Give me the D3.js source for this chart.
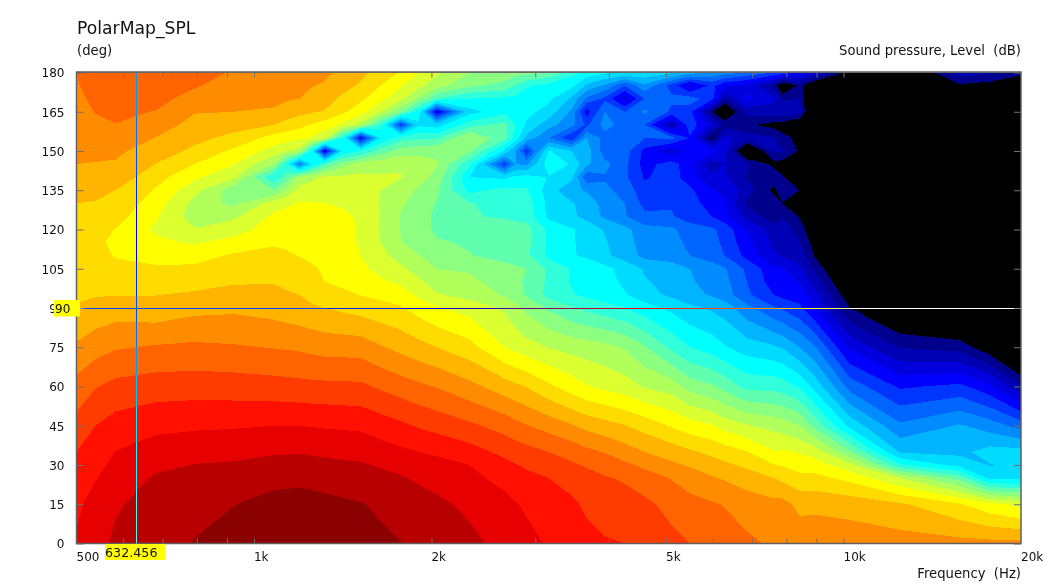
<!DOCTYPE html>
<html><head><meta charset="utf-8">
<script src="https://cdn.jsdelivr.net/npm/d3@7"></script>
<style>
html,body{margin:0;padding:0;background:#fff}
svg{display:block}
text{font-family:"DejaVu Sans",Verdana,sans-serif;font-size:13.2px;fill:#111}
.tick text{font-size:12px}
</style></head><body><div id="chart"></div>
<script>
const frequencies=[500,539,582,681,793,924,1080,1135,1195,1253,1318,1414,1517,1640,1774,1903,2041,2322,2662,2780,2901,3163,3459,3668,3935,4254,4600,5112,5487,5981,6288,6857,7617,7889,8431,8941,10250,12465,15755,17713,20000];
const angles=[180,175,170,165,160,155,150,145,140,135,130,125,120,115,110,105,100,95,90,75,60,45,35,30,25,15,0];
const bandColors=["#00008c","#0000b4","#0000dc","#0000ff","#0034ff","#0064ff","#008cff","#00b4ff","#00dcff","#00ffff","#30ffdc","#60ffb0","#8cff80","#b0ff5a","#dcff30","#ffff00","#ffdc00","#ffb400","#ff8c00","#ff6400","#ff3c00","#ff1000","#e60000","#b80000","#8b0000"];
const xMinorTicks=[600,700,800,900,1000,2000,3000,4000,5000,6000,7000,8000,9000,10000];
const xLabels=[[500,"500"],[1000,"1k"],[2000,"2k"],[5000,"5k"],[10000,"10k"],[20000,"20k"]];
const yTicks=[0,15,30,45,60,75,90,105,120,135,150,165,180];
const cursorFrequency=632.456, cursorAngle=90;
// band level per frequency column, rows follow `angles`
const levels=[
[19.0,18.95,18.85,18.75,18.6,18.45,18.25,18.0,17.65,17.3,17.0,16.85,16.7,16.65,16.65,16.7,16.8,16.9,17.05,18.16,19.35,20.36,21.0,21.2,21.4,21.8,22.1],
[19.35,19.25,19.15,19.03,18.85,18.6,18.25,17.95,17.6,17.2,16.95,16.6,16.3,16.2,16.3,16.45,16.65,16.95,17.3,18.6,19.95,21.0,21.5,21.7,21.95,22.4,22.7],
[19.6,19.45,19.3,19.15,18.98,18.7,18.2,17.9,17.6,17.0,16.7,16.4,15.97,15.8,15.95,16.2,16.5,16.95,17.5,18.9,20.3,21.4,22.02,22.25,22.47,22.9,23.15],
[19.9,19.6,19.3,18.97,18.45,17.98,17.5,16.98,16.4,15.9,15.5,15.15,14.85,15.2,15.65,16.15,16.5,16.98,17.35,19.1,20.5,21.75,22.45,22.8,23.1,23.35,23.6],
[19.4,19.1,18.65,18.05,17.7,17.25,16.8,16.0,15.2,14.35,13.7,13.5,14.05,14.9,15.6,16.2,16.65,17.15,17.7,19.2,20.55,21.85,22.65,23.03,23.25,23.7,24.05],
[18.9,18.55,18.25,18.0,17.35,16.75,15.8,15.05,14.2,12.4,12.7,13.8,14.55,15.35,16.15,16.5,16.9,17.35,17.8,19.1,20.5,21.9,22.75,23.1,23.4,23.97,24.45],
[18.6,18.4,18.2,17.9,17.0,15.6,14.6,13,10,12,14.5,15.2,15.5,15.9,16.25,16.55,16.95,17.25,17.6,18.95,20.4,22.0,22.9,23.3,23.7,24.35,24.6],
[18.5,18.3,18.1,17.6,16.65,15.4,14.1,10,11.5,13.2,14.8,15.3,15.55,15.88,16.1,16.42,16.8,17.12,17.45,18.9,20.35,22,22.92,23.32,23.72,24.4,24.62],
[18.4,18.2,18.0,17.3,16.3,15.2,13.6,6,13.3,14.4,15.1,15.4,15.6,15.85,15.97,16.3,16.65,17,17.3,18.85,20.3,22,22.95,23.35,23.75,24.45,24.65],
[18.3,18.05,17.7,17.1,15.9,14.9,9.5,9,13.75,14.5,15.05,15.4,15.6,15.78,15.86,16.1,16.33,16.7,17.15,18.72,20.27,21.95,22.9,23.27,23.7,24.35,24.62],
[18.2,17.9,17.4,16.95,15.5,14.3,2.8,11,14.2,14.6,15,15.4,15.6,15.7,15.75,15.9,16,16.4,17.0,18.6,20.25,21.9,22.85,23.2,23.65,24.25,24.6],
[17.75,17.35,16.8,16.2,14.8,10,9.2,12.5,14.2,14.55,14.9,15.15,15.3,15.3,15.4,15.55,15.8,16.2,16.8,18.58,20.22,21.85,22.77,23.15,23.55,24.15,24.5],
[17.3,16.85,16.2,15.4,13.6,3.2,10,13.5,14.2,14.5,14.75,14.9,14.9,14.9,15,15.2,15.6,15.97,16.6,18.55,20.2,21.8,22.7,23.1,23.45,24.05,24.4],
[16.6,16,15.3,14.1,10.5,9,11.5,13.7,14.1,14,13.95,13.95,13.9,14,14.3,14.7,15.2,15.75,16.35,18.1,19.85,21.5,22.45,22.9,23.3,23.85,24.2],
[15.9,15.1,14.3,12.2,4.5,10.5,12.5,13.9,14.05,13.5,13.15,12.95,12.95,13.05,13.6,14.2,14.8,15.5,16.1,17.7,19.5,21.2,22.2,22.65,23.1,23.65,24.02],
[15,14.3,12.8,9.5,8.8,10.8,12.7,13.5,13.4,12.85,12.55,12.4,12.4,12.6,13.05,13.6,14.2,14.8,15.6,17.35,19.2,20.9,22,22.45,22.85,23.45,23.85],
[14.2,13.4,11,3,8.5,10.8,12.9,13.05,12.7,12.2,11.95,11.8,11.85,12.1,12.5,13,13.55,14.1,15.1,17,18.95,20.65,21.85,22.3,22.6,23.25,23.7],
[13.0,12.2,10,8.6,10.6,13.1,12.2,10.3,9.0,9.7,11.05,11.1,11.8,11.9,12.05,12.9,13.2,13.65,14.6,16.35,18.3,20.2,21.4,22,22.25,22.75,23.3],
[12.6,11.7,9.8,9.7,11.3,11.3,8.8,4.5,8.8,10.3,10.7,10.85,11.7,11.6,11.6,12.4,12.6,12.9,13.85,15.0,17.5,19.6,20.75,21.25,21.7,22.3,22.6],
[12.5,10.9,9.7,9.5,10,9.5,7,7,9.2,10.2,10.6,10.7,11.55,11.45,11.4,12.2,12.2,12.4,13.3,14.7,17.2,19.3,20.55,21.05,21.5,22.05,22.45],
[12.4,10.1,9.6,9.3,8.8,7.7,4.2,6.8,9.4,10.15,10.5,10.6,11.4,11.3,11.2,12,11.85,11.9,12.75,14.4,16.95,19.05,20.35,20.85,21.25,21.85,22.3],
[12,9.6,9.2,8.6,7.4,6.0,9.1,9.6,8.95,8.5,8.7,8.75,9.75,9.8,9.75,10.8,10.8,10.65,11.85,13.97,16.2,18.6,20.0,20.45,21,21.4,21.9],
[10.3,9.3,7.8,6.8,6.3,4.2,8,8.9,8.3,7.2,8.1,8.2,9.1,9.1,9.1,9.9,9.9,10.1,11.1,13.65,15.5,18.1,19.6,20.15,20.6,21.2,21.55],
[9.6,7.8,5.8,3.5,4.8,7,7.5,7.2,5.2,6.9,7.5,7.7,8.6,8.7,8.8,9.8,9.7,9.8,10.75,13.5,15.07,17.7,19.25,19.9,20.35,20.8,21.35],
[9.2,6.8,4.8,6,6.4,5.6,5.5,6.3,5.9,6.2,6.7,6.8,7.9,8.1,8.2,9.3,9.4,9.5,10.4,13.3,14.75,17.4,18.95,19.55,20.1,20.55,21.1],
[9,5.0,2.5,5.0,5.6,5.5,5.5,5.3,5.2,5.7,6,6.1,7.3,7.4,7.6,8.6,8.8,9.1,10.05,12.9,14.45,17.05,18.45,19.2,19.85,20.55,21.0],
[8.8,6.8,5,6.2,5,5,3.7,3.6,3.9,4.3,4.7,5.2,6.4,6.6,6.7,7.9,8.1,8.4,9.45,12.1,13.9,16.6,18,18.8,19.4,20.25,20.7],
[8.2,4.6,5.2,4.8,1.2,5.3,2.2,4.5,4.4,4.3,4.9,5.1,6.2,6.3,6.5,7.5,7.6,7.8,8.75,10.75,13.5,15.9,17.55,18.2,18.95,19.65,20.3],
[7.5,2.6,5.5,4.4,4.7,3.9,3.4,3.3,3.5,4.2,4.4,4.5,5.5,5.8,6,7,7.1,7.3,8.25,10,12.6,15.45,17.15,17.9,18.5,19.35,20],
[6.8,4.3,4.4,0.1,2.5,-0.3,3.5,1.4,2.2,3.1,3.6,4,5.2,5.3,5.5,6.5,6.7,6.9,7.85,9.55,12.1,15.1,16.75,17.45,18.1,19.1,19.6],
[6.5,3.2,1,-1.5,0.7,2.3,2.4,2,2.2,2.7,3.2,3.4,4.6,4.8,5,6.1,6.3,6.5,7.55,9.1,11.65,14.6,16.5,17.2,17.9,18.95,19.45],
[5.8,2.7,3.2,1.4,0.2,1.5,-2,1.2,0.9,1.6,0.8,1.7,3,3.3,3.7,4.8,5,5.2,6.35,8.5,10.7,14.1,16.05,16.8,17.5,18.55,19.2],
[5,0.6,2.2,1.6,-0.4,1.1,1.2,-0.3,0.6,-0.3,0.8,0.4,1.5,1.8,2.2,3.3,3.5,4,5.15,8.15,10.65,13.7,15.05,16.05,17,18.3,18.85],
[4.7,-1.5,0.8,1.9,-0.6,0.3,1.1,-0.5,0.1,0.9,-0.05,0.9,1.5,1.6,1.9,3.1,3.4,3.7,4.85,7.9,10.5,13.5,15.15,15.9,16.75,18.35,18.8],
[3.5,0.4,1,1.6,-1.5,-0.3,-0.2,-2,-1,-0.05,-1.5,-0.1,0.6,1.1,1.6,2.2,2.9,3.6,4.2,7,9.85,13,14.9,15.6,16.3,17.7,18.7],
[2.5,-1.5,-3,-3,-3,-3,-3,-3,-3,-2.5,-3,-2,-1.2,-0.6,-0.1,0.8,1.6,2.4,3,6.1,8.65,11.7,14.6,15.5,16.3,17.75,18.7],
[-0.5,-4,-4,-4,-4,-4,-4,-4,-4,-4,-4,-4,-4,-3.5,-3,-2.4,-1.6,-0.8,0,2.8,5.6,8.7,12.15,14.3,15.7,17.6,18.6],
[-2,-4,-4,-4,-4,-4,-4,-4,-4,-4,-4,-4,-4,-4,-4,-4,-3.5,-2.7,-1.8,0.95,3.85,6.2,7.9,10.2,14,17.15,18.45],
[1.5,-0.2,-4,-4,-4,-4,-4,-4,-4,-4,-4,-4,-4,-4,-4,-4,-4,-3.5,-2.7,0.6,4.25,7.1,7.75,8.6,11.6,16.1,18.35],
[1.2,-0.5,-4,-4,-4,-4,-4,-4,-4,-4,-4,-4,-4,-4,-4,-4,-4,-3.8,-3.4,-0.8,3.3,6.5,8.4,7.95,8.7,15.3,18.3],
[0.6,-2,-4,-4,-4,-4,-4,-4,-4,-4,-4,-4,-4,-4,-4,-4,-4,-4,-4,-3,1.15,5.6,8.4,8.2,8.7,14.7,18.3]
];

const W=1056,H=587,L=76.5,R=1021,T=72.5,B=543.5;
const x=d3.scaleLog().domain([500,20000]).range([L,R]);
const y=d3.scaleLinear().domain([0,180]).range([B,T]);
const svg=d3.select("#chart").append("svg").attr("width",W).attr("height",H);

svg.append("rect").attr("x",L).attr("y",T).attr("width",R-L).attr("height",B-T).attr("fill","#000");

const nx=frequencies.length, ny=angles.length;
const grid=new Float64Array(nx*ny);
for(let j=0;j<ny;j++)for(let i=0;i<nx;i++)grid[i+j*nx]=levels[i][j];
const uToX=d3.scaleLinear().domain(d3.range(nx)).range(frequencies.map(x)).clamp(true);
const vToY=d3.scaleLinear().domain(d3.range(ny)).range(angles.map(y)).clamp(true);
const path=d3.geoPath().projection(d3.geoTransform({point(u,v){this.stream.point(uToX(u-.5),vToY(v-.5));}}));
const contours=d3.contours().size([nx,ny]).thresholds(d3.range(bandColors.length))(grid);
svg.append("g").attr("shape-rendering","crispEdges").selectAll("path").data(contours).join("path")
  .attr("d",path).attr("fill",(d,i)=>bandColors[i]).attr("fill-rule","evenodd");

const tickStroke="#707070";
function style(g){g.select(".domain").remove();g.selectAll("line").attr("stroke",tickStroke);}
svg.append("g").attr("transform",`translate(0,${B})`).call(d3.axisBottom(x).tickValues(xMinorTicks).tickSize(-5).tickFormat("")).call(style);
svg.append("g").attr("transform",`translate(0,${T})`).call(d3.axisTop(x).tickValues(xMinorTicks).tickSize(-5).tickFormat("")).call(style);
svg.append("g").attr("transform",`translate(${R},0)`).call(d3.axisRight(y).tickValues(yTicks).tickSize(-7).tickFormat("")).call(style);
const yAxis=svg.append("g").attr("transform",`translate(${L},0)`).call(d3.axisLeft(y).tickValues(yTicks).tickSize(-7).tickFormat(d=>d)).call(style);
yAxis.selectAll("text").attr("x",-12).attr("dy","0.36em");
svg.append("g").attr("class","tick").selectAll("text").data(xLabels).join("text").attr("x",d=>x(d[0])).attr("y",561).text(d=>d[1]);

svg.append("rect").attr("x",L).attr("y",T-.5).attr("width",R-L).attr("height",B-T+.5).attr("fill","none").attr("stroke","#606060").attr("stroke-width",1.5);

const cx=Math.floor(x(cursorFrequency))+.5, cy=Math.floor(y(cursorAngle))+.5;
const cursor=svg.append("g").style("mix-blend-mode","difference");
cursor.append("line").attr("x1",cx).attr("x2",cx).attr("y1",T).attr("y2",B).attr("stroke","#fff").attr("shape-rendering","crispEdges");
cursor.append("line").attr("x1",L).attr("x2",R).attr("y1",cy).attr("y2",cy).attr("stroke","#fff").attr("shape-rendering","crispEdges");

svg.append("rect").attr("x",54).attr("y",cy-8.5).attr("width",26).attr("height",16.5).attr("fill","#ffff00");
svg.append("text").attr("x",55).attr("y",cy+4.5).style("font-size","12px").text(cursorAngle);
svg.append("rect").attr("x",105).attr("y",544).attr("width",60).attr("height",16).attr("fill","#ffff00");
svg.append("text").attr("x",105).attr("y",557).style("font-size","12.7px").text(cursorFrequency);

svg.append("text").attr("x",77).attr("y",34).style("font-size","17.2px").text("PolarMap_SPL");
svg.append("text").attr("x",77).attr("y",55).text("(deg)");
svg.append("text").attr("x",1021).attr("y",55).attr("text-anchor","end").style("white-space","pre").text("Sound pressure, Level  (dB)");
svg.append("text").attr("x",1021).attr("y",578).attr("text-anchor","end").style("white-space","pre").text("Frequency  (Hz)");
</script></body></html>
